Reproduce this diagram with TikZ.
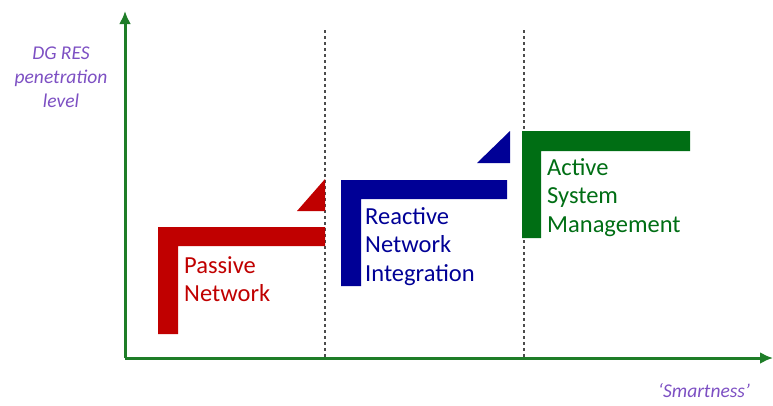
\documentclass[tikz,border=0pt]{standalone}
\usepackage{fontspec}
\setmainfont{Carlito}
\usetikzlibrary{arrows.meta,positioning}
\definecolor{passred}{RGB}{192,0,0}
\definecolor{reactblue}{RGB}{0,0,150}
\definecolor{activegreen}{RGB}{0,110,20}
\definecolor{axisgreen}{RGB}{30,125,40}
\definecolor{labelpurple}{RGB}{125,80,195}
\tikzset{>={Latex[length=13pt,width=12pt]}}

\begin{document}
\begin{tikzpicture}[x=1pt, y=-1pt, axis/.style={axisgreen, line width=3pt, ->}, stage/.style={align=left, anchor=north west, inner sep=0pt, font=\fontsize{24.5}{28.5}\selectfont}, axislabel/.style={labelpurple, align=center, inner sep=0pt, font=\itshape\fontsize{19.5}{24}\selectfont}, border/.style={black!70, line width=1.5pt, dash pattern=on 3pt off 3pt}]
    \useasboundingbox (0,0) rectangle (773,405);

    % Axes
    \coordinate (O) at (125,358);
    \coordinate (ytop) at (125,11);
    \coordinate (xend) at (773,358);

    % Borders between stages
    \coordinate (b1top) at (325,30);
    \coordinate (b1bot) at (325,358);
    \coordinate (b2top) at (524,30);
    \coordinate (b2bot) at (524,358);
    \draw[border] (b1top) -- (b1bot);
    \draw[border] (b2top) -- (b2bot);

    % Passive network
    \fill[passred] (158,227) -- (325,227) -- (325,246) -- (178,246) -- (178,334) -- (158,334) -- cycle;
    \fill[passred] (297,211) -- (325,211) -- (325,179) -- cycle;
    \node[stage, passred] (passive) at (184,256) {Passive\\Network};

    % Reactive network integration
    \fill[reactblue] (341,180) -- (507,180) -- (507,199) -- (361,199) -- (361,286) -- (341,286) -- cycle;
    \fill[reactblue] (477,163) -- (510,163) -- (510,131) -- cycle;
    \node[stage, reactblue] (reactive) at (365,207) {Reactive\\Network\\Integration};

    % Active system management
    \fill[activegreen] (522,131) -- (690,131) -- (690,151) -- (541,151) -- (541,238) -- (522,238) -- cycle;
    \node[stage, activegreen] (active) at (547,158) {Active\\System\\Management};

    \draw[axis] (O) -- (ytop);
    \draw[axis] (O) -- (xend);

    \node[axislabel] (ylabel) at (61,77) {DG RES\\penetration\\level};
    \node[axislabel] (xlabel) at (704,391) {‘Smartness’};
\end{tikzpicture}
\end{document}
